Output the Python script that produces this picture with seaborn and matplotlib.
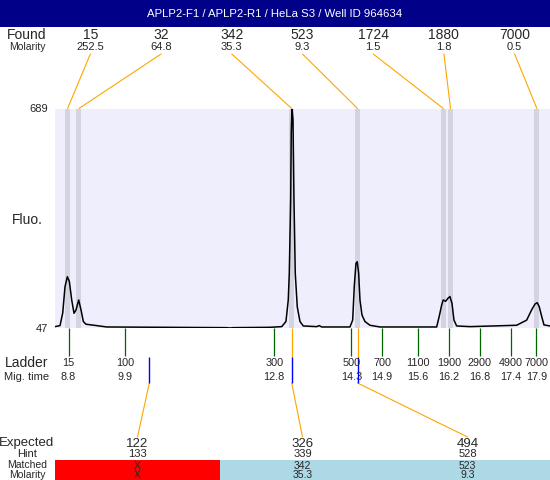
import matplotlib
matplotlib.use("Agg")
import matplotlib.pyplot as plt
import matplotlib.transforms as mtransforms
from matplotlib.patches import Rectangle, ConnectionPatch
import seaborn as sns

TITLE = "APLP2-F1 / APLP2-R1 / HeLa S3 / Well ID 964634"

# peaks found in the sample
found_bp = ["15", "32", "342", "523", "1724", "1880", "7000"]
found_mol = ["252.5", "64.8", "35.3", "9.3", "1.5", "1.8", "0.5"]
found_time = [8.78, 9.00, 13.14, 14.42, 16.09, 16.23, 17.91]

# ladder
ladder_bp = ["15", "100", "300", "500", "700", "1100", "1900", "2900", "4900", "7000"]
ladder_time = [8.8, 9.9, 12.8, 14.3, 14.9, 15.6, 16.2, 16.8, 17.4, 17.9]

# expected products
expected_bp = ["122", "326", "494"]
hint_bp = ["133", "339", "528"]
matched_bp = ["X", "342", "523"]
matched_mol = ["X", "35.3", "9.3"]
expected_time = [10.37, 13.14, 14.42]
is_matched = [False, True, True]

# electropherogram trace
trace_time = [8.535, 8.633, 8.685, 8.730, 8.775, 8.814, 8.860, 8.905, 8.944, 8.996,
              9.041, 9.086, 9.139, 9.347, 9.541, 11.876, 11.940, 11.998, 12.717, 12.945,
              13.028, 13.073, 13.093, 13.120, 13.131, 13.145, 13.165, 13.184, 13.209, 13.248,
              13.301, 13.365, 13.626, 13.676, 13.723, 14.273, 14.326, 14.357, 14.390, 14.415,
              14.442, 14.468, 14.507, 14.565, 14.662, 14.857, 15.960, 16.010, 16.057, 16.088,
              16.135, 16.180, 16.219, 16.258, 16.297, 16.349, 16.608, 17.516, 17.711, 17.808,
              17.873, 17.917, 17.956, 18.003, 18.048, 18.165]
trace_fluo = [51, 54, 91, 168, 197, 183, 129, 90, 100, 129,
              100, 66, 58, 54, 50, 48, 47, 48, 49, 51,
              66, 129, 208, 423, 618, 689, 656, 423, 208, 109,
              66, 53, 51, 54, 50, 50, 70, 168, 236, 241,
              207, 129, 85, 66, 55, 50, 50, 81, 114, 129,
              125, 134, 139, 119, 70, 53, 51, 55, 70, 100,
              117, 121, 109, 81, 56, 53]

fluo_min, fluo_max = 47, 689
t_min, t_max = 8.535, 18.165

sns.set_style("white")
plt.rcParams["font.family"] = ["Liberation Sans", "DejaVu Sans"]

W, H = 550, 480
fig = plt.figure(figsize=(W / 100, H / 100), dpi=100)

# plot area in pixels
PL, PR, PT, PB = 55, 550, 108.5, 328
ax = fig.add_axes([PL / W, (H - PB) / H, (PR - PL) / W, (PB - PT) / H])
ax.set_facecolor("#EEEEFC")
for t in found_time:
    ax.axvspan(t - 0.05, t + 0.05, color="#D3D3E1", lw=0, zorder=1)
sns.lineplot(x=trace_time, y=trace_fluo, ax=ax, color="black", lw=1.1, zorder=3)
ax.set_xlim(t_min, t_max)
ax.set_ylim(fluo_min, fluo_max)
ax.set_xticks([])
ax.set_yticks([fluo_min, fluo_max])
ax.set_yticklabels([str(fluo_min), str(fluo_max)], fontsize=8)
ax.tick_params(axis="y", length=0, pad=5)
ax.set_xlabel("")
ax.set_ylabel("")
sns.despine(ax=ax, left=True, bottom=True)

# overlay in pixel coordinates for the text rows
ov = fig.add_axes([0, 0, 1, 1], zorder=5)
ov.set_xlim(0, W)
ov.set_ylim(H, 0)
ov.axis("off")
ov.patch.set_alpha(0)
blend = mtransforms.blended_transform_factory(ax.transData, ov.transData)

# title bar
ov.add_patch(Rectangle((0, 0), W, 27, color="#000088", lw=0))
ov.text(W / 2, 14, TITLE, color="white", fontsize=8.2, ha="center", va="center")

LX = 27
ov.text(LX, 35, "Found", fontsize=10, ha="center", va="center")
ov.text(LX, 47, "Molarity", fontsize=7.5, ha="center", va="center")
ov.text(LX, 220, "Fluo.", fontsize=10, ha="center", va="center")

col_w = (PR - PL) / len(found_bp)
for i, (bp, mol, t) in enumerate(zip(found_bp, found_mol, found_time)):
    cx = PL + col_w * (i + 0.5)
    ov.text(cx, 35, bp, fontsize=10, ha="center", va="center")
    ov.text(cx, 47, mol, fontsize=8, ha="center", va="center")
    con = ConnectionPatch((cx, 54), (t, PT), coordsA=ov.transData, coordsB=blend,
                          color="orange", lw=0.8, arrowstyle="-", shrinkA=0, shrinkB=0)
    ov.add_artist(con)

# ladder row
ov.vlines(ladder_time, PB, 356, transform=blend, color="#006400", lw=0.9)
for bp, t in zip(ladder_bp, ladder_time):
    ov.text(t, 363, bp, fontsize=7.8, ha="center", va="center", transform=blend)
    ov.text(t, 377, f"{t:.1f}", fontsize=7.8, ha="center", va="center", transform=blend)
ov.text(LX, 363, "Ladder", fontsize=10, ha="center", va="center")
ov.text(LX, 377, "Mig. time", fontsize=8, ha="center", va="center")

# expected table
tcol_w = (PR - PL) / len(expected_bp)
for i, t in enumerate(expected_time):
    cx = PL + tcol_w * (i + 0.5)
    if is_matched[i]:
        ov.vlines(t, PB, 357, transform=blend, color="orange", lw=0.9)
    ov.vlines(t, 357, 383, transform=blend, color="blue", lw=1.0)
    con = ConnectionPatch((t, 383), (cx, 437), coordsA=blend, coordsB=ov.transData,
                          color="orange", lw=0.8, arrowstyle="-", shrinkA=0, shrinkB=0)
    ov.add_artist(con)
    ov.add_patch(Rectangle((PL + tcol_w * i, 460), tcol_w, 20,
                           color="#ADD8E6" if is_matched[i] else "red", lw=0))
    ov.text(cx, 444, expected_bp[i], fontsize=9.5, ha="center", va="center")
    ov.text(cx, 454, hint_bp[i], fontsize=8, ha="center", va="center")
    ov.text(cx, 466, matched_bp[i], fontsize=7.5, ha="center", va="center")
    ov.text(cx, 475, matched_mol[i], fontsize=7.5, ha="center", va="center")

ov.text(LX, 443, "Expected", fontsize=9.5, ha="center", va="center")
ov.text(LX, 454, "Hint", fontsize=8, ha="center", va="center")
ov.text(LX, 465, "Matched", fontsize=7.5, ha="center", va="center")
ov.text(LX, 475, "Molarity", fontsize=7.5, ha="center", va="center")

fig.savefig("out.png", dpi=100)
plt.close(fig)
